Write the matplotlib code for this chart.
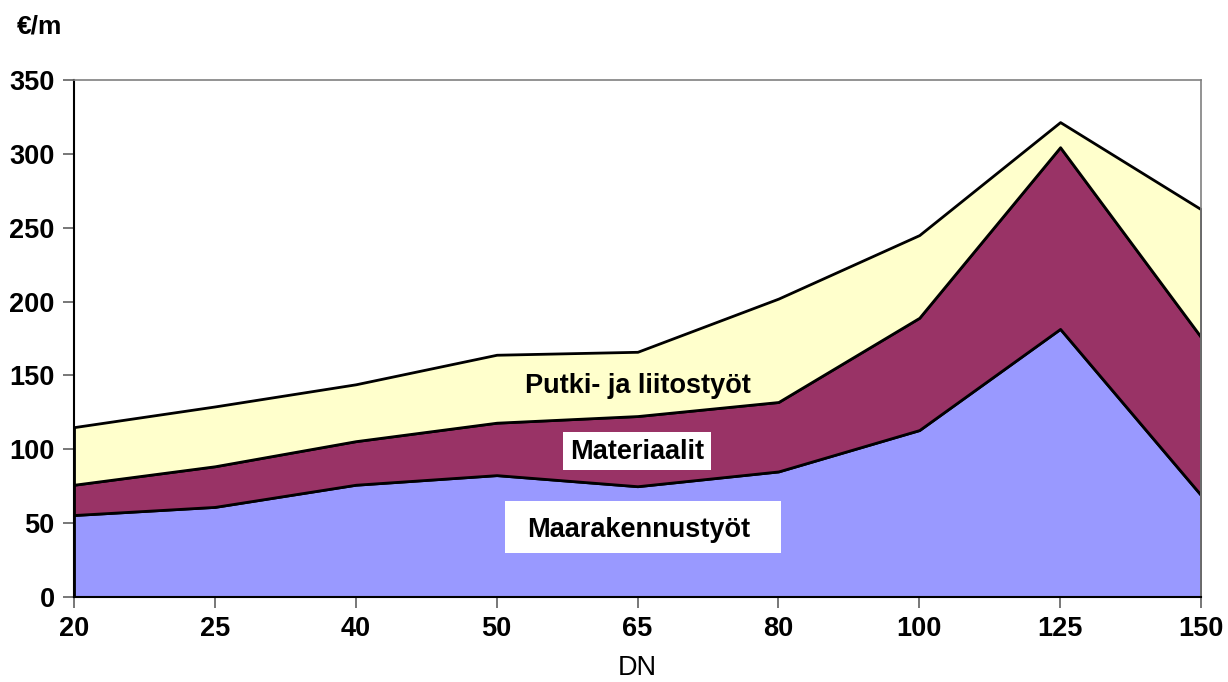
import matplotlib
matplotlib.use("Agg")
import matplotlib.pyplot as plt
from matplotlib.patches import Rectangle
import numpy as np

plt.rcParams['font.family'] = ['Liberation Sans', 'DejaVu Sans']

categories = ["20", "25", "40", "50", "65", "80", "100", "125", "150"]
maarakennus = [55.5, 61, 76, 82.5, 75, 85, 113, 181.5, 69]
materiaalit = [20.5, 27.5, 29.5, 35.5, 47.5, 47, 76, 123, 107]
putki = [39, 40.5, 38.5, 46, 43.5, 70, 56, 17, 86.5]

series_names = ["Maarakennustyöt", "Materiaalit", "Putki- ja liitostyöt"]
colors = ["#9999FF", "#993366", "#FFFFCC"]

W, H = 1228, 682
fig = plt.figure(figsize=(W/100, H/100), dpi=100)
ax = fig.add_axes([74/W, 1-597/H, (1201-74)/W, (597-80)/H])

x = np.arange(len(categories))
stack = np.vstack([maarakennus, materiaalit, putki])
cum = np.cumsum(stack, axis=0)
base = np.zeros(len(categories))
for i in range(3):
    ax.fill_between(x, base, cum[i], facecolor=colors[i], edgecolor='black',
                    linewidth=2, zorder=2)
    base = cum[i]

ax.set_xlim(0, len(categories)-1)
ax.set_ylim(0, 350)
ax.set_xticks(x)
ax.set_xticklabels(categories)
ax.set_yticks(np.arange(0, 351, 50))
ax.tick_params(axis='both', direction='out', length=8, width=1.2, color='#606060',
               labelsize=19.5, pad=6)
for lab in ax.get_xticklabels() + ax.get_yticklabels():
    lab.set_fontweight('bold')

for s in ['left', 'bottom']:
    ax.spines[s].set_color('black')
    ax.spines[s].set_linewidth(1.5)
for s in ['top', 'right']:
    ax.spines[s].set_color('#808080')
    ax.spines[s].set_linewidth(1.2)
for sp in ax.spines.values():
    sp.set_zorder(3)

ax.set_xlabel("DN", fontsize=19.5, labelpad=9)
fig.text(17/W, 1-27/H, "€/m", fontsize=19, fontweight='bold', va='center', ha='left')

# label for top series (no box)
ax.text(4.0, 143, series_names[2], fontsize=19.5, fontweight='bold', ha='center', va='center', zorder=4)
# label for middle series
fig.patches.append(Rectangle((563/W, 1-470/H), (711-563)/W, (470-432)/H,
                             transform=fig.transFigure, facecolor='white',
                             edgecolor='none', zorder=4))
fig.text(637/W, 1-452/H, series_names[1], fontsize=19.5, fontweight='bold', ha='center', va='center', zorder=5)
# label for bottom series
fig.patches.append(Rectangle((505/W, 1-553/H), (781-505)/W, (553-501)/H,
                             transform=fig.transFigure, facecolor='white',
                             edgecolor='none', zorder=4))
fig.text(527/W, 1-530/H, series_names[0], fontsize=19.5, fontweight='bold', ha='left', va='center', zorder=5)

fig.savefig("out.png", dpi=100)
